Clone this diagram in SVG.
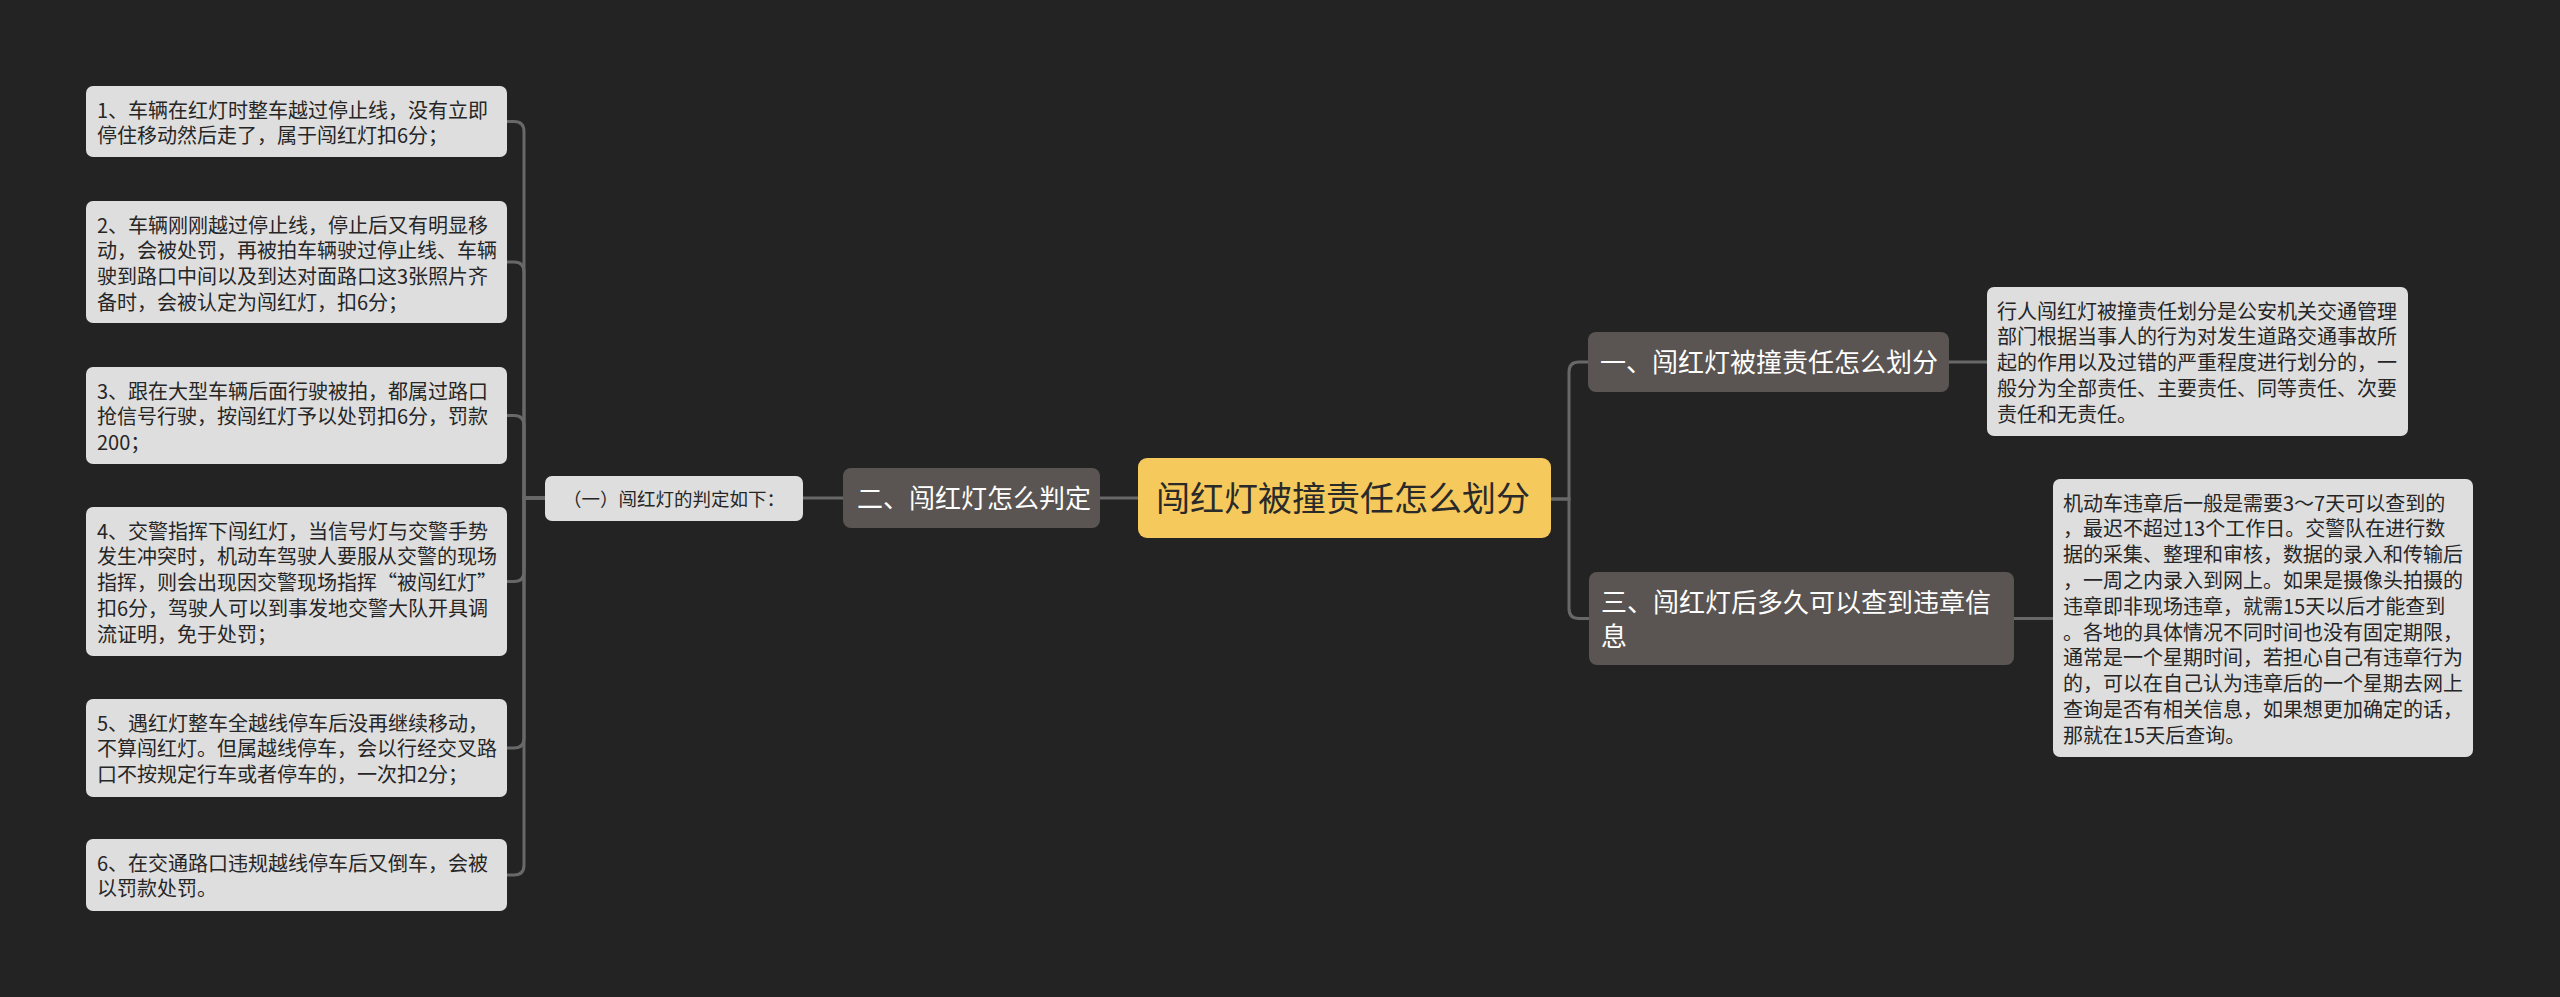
<svg xmlns="http://www.w3.org/2000/svg" width="2560" height="997" viewBox="0 0 2560 997">
<style>
  .leaf rect{fill:#dedede;}
  .leaf text{font-family:"Noto Sans CJK SC","Liberation Sans",sans-serif;font-size:20px;fill:#262626;}
  .topic rect{fill:#5a5552;}
  .topic text{font-family:"Noto Sans CJK SC","Liberation Sans",sans-serif;font-size:26px;fill:#ffffff;}
  .center rect{fill:#f5c95b;}
  .center text{font-family:"Noto Sans CJK SC","Liberation Sans",sans-serif;font-size:34px;fill:#2a2a2a;}
  .sub rect{fill:#dedede;}
  .sub text{font-family:"Noto Sans CJK SC","Liberation Sans",sans-serif;font-size:18.5px;fill:#262626;}
  #connectors path{fill:none;stroke:#686868;stroke-width:3;}
</style>
<rect x="0" y="0" width="2560" height="997" fill="#232323"/>

<g id="connectors">
  <path d="M1138 498 H1100"/>
  <path d="M843 498 H803"/>
  <path d="M545 498 H524 V131.5 Q524 121.5 514 121.5 H507"/>
  <path d="M545 498 H524 V272 Q524 262 514 262 H507"/>
  <path d="M545 498 H524 V425.5 Q524 415.5 514 415.5 H507"/>
  <path d="M545 498 H524 V571.5 Q524 581.5 514 581.5 H507"/>
  <path d="M545 498 H524 V738 Q524 748 514 748 H507"/>
  <path d="M545 498 H524 V865 Q524 875 514 875 H507"/>
  <path d="M1551 499 H1569 V372 Q1569 362 1579 362 H1588"/>
  <path d="M1551 499 H1569 V608.5 Q1569 618.5 1579 618.5 H1589"/>
  <path d="M1949 362 H1987"/>
  <path d="M2014 618.5 H2053"/>
</g>

<g id="root" class="center">
  <rect x="1138" y="458" width="413" height="80" rx="9"/>
  <text x="1156" y="511">闯红灯被撞责任怎么划分</text>
</g>

<g id="topic1" class="topic">
  <rect x="1588" y="332" width="361" height="60" rx="8"/>
  <text x="1600" y="372">一、闯红灯被撞责任怎么划分</text>
</g>

<g id="topic2" class="topic">
  <rect x="843" y="468" width="257" height="60" rx="8"/>
  <text x="857" y="508">二、闯红灯怎么判定</text>
</g>

<g id="topic3" class="topic">
  <rect x="1589" y="572" width="425" height="93" rx="8"/>
  <text x="1601" y="612">三、闯红灯后多久可以查到违章信<tspan x="1601" dy="34">息</tspan></text>
</g>

<g id="sub1" class="sub">
  <rect x="545" y="476" width="258" height="45" rx="7"/>
  <text x="563" y="505.5">（一）闯红灯的判定如下：</text>
</g>

<g id="leaf1" class="leaf">
  <rect x="86" y="86" width="421" height="71" rx="7"/>
  <text x="97" y="117.5">1、车辆在红灯时整车越过停止线，没有立即<tspan x="97" dy="25.8">停住移动然后走了，属于闯红灯扣6分；</tspan></text>
</g>

<g id="leaf2" class="leaf">
  <rect x="86" y="201" width="421" height="122" rx="7"/>
  <text x="97" y="232.5">2、车辆刚刚越过停止线，停止后又有明显移<tspan x="97" dy="25.8">动，会被处罚，再被拍车辆驶过停止线、车辆</tspan><tspan x="97" dy="25.8">驶到路口中间以及到达对面路口这3张照片齐</tspan><tspan x="97" dy="25.8">备时，会被认定为闯红灯，扣6分；</tspan></text>
</g>

<g id="leaf3" class="leaf">
  <rect x="86" y="367" width="421" height="97" rx="7"/>
  <text x="97" y="398.5">3、跟在大型车辆后面行驶被拍，都属过路口<tspan x="97" dy="25.8">抢信号行驶，按闯红灯予以处罚扣6分，罚款</tspan><tspan x="97" dy="25.8">200；</tspan></text>
</g>

<g id="leaf4" class="leaf">
  <rect x="86" y="507" width="421" height="149" rx="7"/>
  <text x="97" y="538.5">4、交警指挥下闯红灯，当信号灯与交警手势<tspan x="97" dy="25.8">发生冲突时，机动车驾驶人要服从交警的现场</tspan><tspan x="97" dy="25.8">指挥，则会出现因交警现场指挥“被闯红灯”</tspan><tspan x="97" dy="25.8">扣6分，驾驶人可以到事发地交警大队开具调</tspan><tspan x="97" dy="25.8">流证明，免于处罚；</tspan></text>
</g>

<g id="leaf5" class="leaf">
  <rect x="86" y="699" width="421" height="98" rx="7"/>
  <text x="97" y="730.5">5、遇红灯整车全越线停车后没再继续移动，<tspan x="97" dy="25.8">不算闯红灯。但属越线停车，会以行经交叉路</tspan><tspan x="97" dy="25.8">口不按规定行车或者停车的，一次扣2分；</tspan></text>
</g>

<g id="leaf6" class="leaf">
  <rect x="86" y="839" width="421" height="72" rx="7"/>
  <text x="97" y="870.5">6、在交通路口违规越线停车后又倒车，会被<tspan x="97" dy="25.8">以罚款处罚。</tspan></text>
</g>

<g id="leaf7" class="leaf">
  <rect x="1987" y="287" width="421" height="149" rx="7"/>
  <text x="1997" y="318.5">行人闯红灯被撞责任划分是公安机关交通管理<tspan x="1997" dy="25.8">部门根据当事人的行为对发生道路交通事故所</tspan><tspan x="1997" dy="25.8">起的作用以及过错的严重程度进行划分的，一</tspan><tspan x="1997" dy="25.8">般分为全部责任、主要责任、同等责任、次要</tspan><tspan x="1997" dy="25.8">责任和无责任。</tspan></text>
</g>

<g id="leaf8" class="leaf">
  <rect x="2053" y="479" width="420" height="278" rx="7"/>
  <text x="2063" y="510.5">机动车违章后一般是需要3～7天可以查到的<tspan x="2063" dy="25.8">，最迟不超过13个工作日。交警队在进行数</tspan><tspan x="2063" dy="25.8">据的采集、整理和审核，数据的录入和传输后</tspan><tspan x="2063" dy="25.8">，一周之内录入到网上。如果是摄像头拍摄的</tspan><tspan x="2063" dy="25.8">违章即非现场违章，就需15天以后才能查到</tspan><tspan x="2063" dy="25.8">。各地的具体情况不同时间也没有固定期限，</tspan><tspan x="2063" dy="25.8">通常是一个星期时间，若担心自己有违章行为</tspan><tspan x="2063" dy="25.8">的，可以在自己认为违章后的一个星期去网上</tspan><tspan x="2063" dy="25.8">查询是否有相关信息，如果想更加确定的话，</tspan><tspan x="2063" dy="25.8">那就在15天后查询。</tspan></text>
</g>
</svg>
